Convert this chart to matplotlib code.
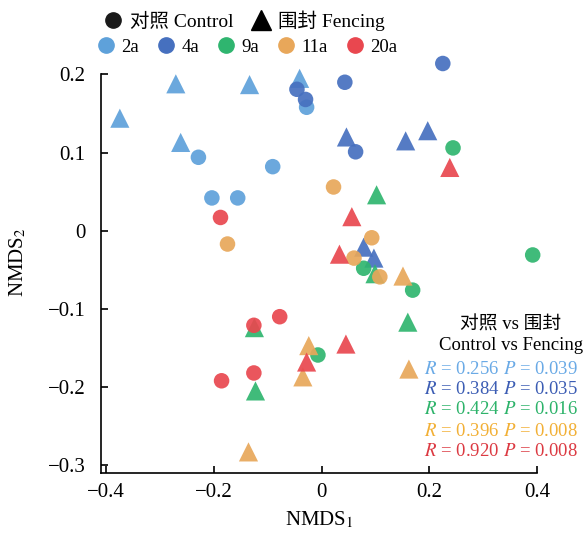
import matplotlib
matplotlib.use('Agg')
import matplotlib.pyplot as plt
from matplotlib.lines import Line2D

# ========== 数据 ==========
groups = ['2a', '4a', '9a', '11a', '20a']
colors = ['#5ea1da', '#4670bf', '#2fb56f', '#e8a75a', '#e9474f']
text_colors = ['#6aaae6', '#3c5db4', '#2db36a', '#f2b036', '#dc3a42']

# 对照 Control (circles)
ctrl_x = [
    [-0.229, -0.204, -0.156, -0.091, -0.028],
    [-0.046, -0.030, 0.043, 0.225, 0.063],
    [0.244, 0.392, 0.078, 0.169, -0.007],
    [0.022, 0.093, 0.060, 0.108, -0.175],
    [-0.188, -0.078, -0.126, -0.126, -0.186],
]
ctrl_y = [
    [0.094, 0.042, 0.042, 0.082, 0.158],
    [0.181, 0.168, 0.190, 0.214, 0.101],
    [0.106, -0.031, -0.048, -0.076, -0.159],
    [0.056, -0.009, -0.035, -0.059, -0.017],
    [0.017, -0.110, -0.121, -0.182, -0.192],
]

# 围封 Fencing (triangles)
fence_x = [
    [-0.375, -0.271, -0.262, -0.134, -0.041],
    [0.046, 0.156, 0.197, 0.078, 0.097],
    [0.102, 0.099, 0.160, -0.125, -0.123],
    [0.151, 0.162, -0.024, -0.035, -0.136],
    [0.238, 0.056, 0.033, 0.045, -0.028],
]
fence_y = [
    [0.144, 0.188, 0.113, 0.187, 0.195],
    [0.120, 0.115, 0.128, -0.021, -0.035],
    [0.046, -0.055, -0.117, -0.124, -0.205],
    [-0.058, -0.177, -0.147, -0.187, -0.283],
    [0.081, 0.018, -0.030, -0.145, -0.168],
]

r_vals = ['0.256', '0.384', '0.424', '0.396', '0.920']
p_vals = ['0.039', '0.035', '0.016', '0.008', '0.008']

x_ticks = [-0.4, -0.2, 0, 0.2, 0.4]
x_ticklabels = ['\u22120.4', '\u22120.2', '0', '0.2', '0.4']
y_ticks = [-0.3, -0.2, -0.1, 0, 0.1, 0.2]
y_ticklabels = ['\u22120.3', '\u22120.2', '\u22120.1', '0', '0.1', '0.2']

# ========== 样式 ==========
plt.rcParams.update({
    'font.family': ['Liberation Serif', 'Noto Sans CJK SC'],
    'mathtext.fontset': 'stix',
    'axes.linewidth': 1.2,
})

W, H = 584, 540
fig = plt.figure(figsize=(W / 100, H / 100), dpi=100)
ax = fig.add_axes([101 / W, 1 - 473 / H, 436 / W, 422 / H])

for i, g in enumerate(groups):
    ax.scatter(fence_x[i], fence_y[i], marker='^', s=190, color=colors[i],
               edgecolors='none', alpha=0.92, zorder=3 + i, clip_on=False)
    ax.scatter(ctrl_x[i], ctrl_y[i], marker='o', s=125, color=colors[i],
               edgecolors='none', alpha=0.92, zorder=3 + i, clip_on=False)

ax.set_xlim(-0.41, 0.40)
ax.set_ylim(-0.31, 0.23)
ax.spines['top'].set_visible(False)
ax.spines['right'].set_visible(False)
ax.spines['left'].set_bounds(-0.31, 0.2)
ax.spines['bottom'].set_bounds(-0.41, 0.40)

ax.set_xticks(x_ticks)
ax.set_xticklabels(x_ticklabels)
ax.set_yticks(y_ticks)
ax.set_yticklabels(y_ticklabels)
ax.tick_params(direction='in', length=5, width=1.2, labelsize=15)
ax.tick_params(axis='x', pad=7)
ax.tick_params(axis='y', pad=11)

ax.set_xlabel('NMDS$_1$', fontsize=15, labelpad=6)
ax.set_ylabel('NMDS$_2$', fontsize=15, labelpad=14)

# 图例
h1 = [Line2D([], [], marker='o', color='#1a1a1a', ls='', markersize=11),
      Line2D([], [], marker='^', color='black', ls='', markersize=14)]
leg1 = fig.legend(h1, ['对照 Control', '围封 Fencing'], ncol=2, frameon=False,
                  loc='center left', bbox_to_anchor=(103 / W, 1 - 21 / H),
                  fontsize=14, handlelength=1.0, handletextpad=0.4,
                  columnspacing=0.9, borderaxespad=0, borderpad=0)
h2 = [Line2D([], [], marker='o', color=c, ls='', markersize=11) for c in colors]
leg2 = fig.legend(h2, groups, ncol=5, frameon=False,
                  loc='center left', bbox_to_anchor=(97 / W, 1 - 47 / H),
                  fontsize=13.5, handlelength=1.0, handletextpad=0.3,
                  columnspacing=0.95, borderaxespad=0, borderpad=0)

# 统计结果
fig.text(511 / W, 1 - 325 / H, '对照 vs 围封', ha='center', va='center', fontsize=13.5)
fig.text(511 / W, 1 - 346 / H, 'Control vs Fencing', ha='center', va='center', fontsize=13.5)
row_y = [369, 389, 410, 431, 452]
for i in range(len(groups)):
    fig.text(424 / W, 1 - row_y[i] / H, '$R$ = ' + r_vals[i], ha='left', va='center',
             fontsize=13.5, color=text_colors[i])
    fig.text(578 / W, 1 - row_y[i] / H, '$P$ = ' + p_vals[i], ha='right', va='center',
             fontsize=13.5, color=text_colors[i])

fig.savefig('out.png', dpi=100)
